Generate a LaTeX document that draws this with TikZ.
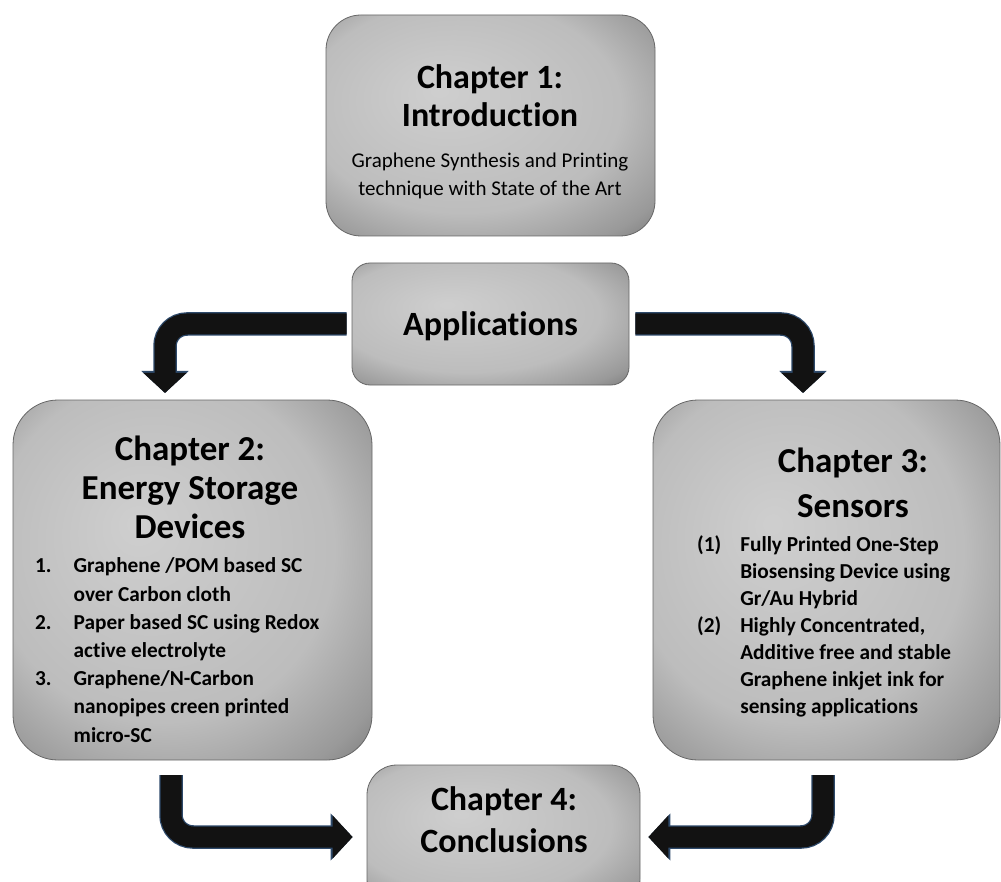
\documentclass[tikz,border=0pt]{standalone}
\usepackage{fontspec}
\setmainfont{Carlito}[Ligatures = NoCommon]
\usetikzlibrary{arrows.meta}

\definecolor{arrowedge}{HTML}{2E4A6B}
\pgfdeclareradialshading{boxglow}{\pgfpoint{-8bp}{8bp}}{color(0bp)=(black!19); color(24bp)=(black!26); color(34bp)=(black!40); color(43bp)=(black!62); color(50bp)=(black!86)}

\begin{document}
\begin{tikzpicture}[x = 1pt, y = -1pt,
        chapbox/.style = {draw = black!60, line width = 0.8pt, shade, shading = boxglow, rounded corners = #1, inner sep = 0pt},
        chaptitle/.style = {font = \bfseries\fontsize{34}{38}\selectfont, align = center, inner sep = 0pt},
        chaplist/.style = {font = \bfseries\fontsize{21.3}{#1}\selectfont, anchor = north west, inner sep = 0pt},
        bigarrow/.style = {line width = 21pt, draw = black!93, rounded corners = 22pt,
                           -{Triangle[length = 20pt, width = 42pt]},
                           preaction = {draw = arrowedge, line width = 23.5pt, -{Triangle[length = 22pt, width = 46pt]}}}]
        \path[clip] (0, 0) rectangle (1001, 882);
        \useasboundingbox (0, 0) rectangle (1001, 882);

        % boxes
        \node[chapbox = 35pt, minimum width = 329pt, minimum height = 221pt] (intro) at (490.5, 125.5) {};
        \node[chapbox = 18pt, minimum width = 277pt, minimum height = 122pt] (apps) at (490.5, 324) {};
        \node[chapbox = 45pt, minimum width = 359pt, minimum height = 360pt] (ch2) at (192.5, 580) {};
        \node[chapbox = 45pt, minimum width = 347pt, minimum height = 360pt] (ch3) at (826.5, 580) {};
        \node[chapbox = 30pt, minimum width = 273pt, minimum height = 144pt] (ch4) at (503.5, 837) {};

        % texts
        \node[chaptitle] (introtitle) at (490, 96) {Chapter 1:\\Introduction};
        \node[font = \fontsize{21}{28}\selectfont, align = center, inner sep = 0pt] (introsub) at (490, 176)
            {Graphene Synthesis and Printing\\technique with State of the Art};
        \node[chaptitle] (appstitle) at (490.5, 326) {Applications};
        \node[chaptitle, font = \bfseries\fontsize{35}{39}\selectfont] (ch2title) at (190, 487) {Chapter 2:\\Energy Storage\\Devices};
        \node[chaplist = 28.2] (ch2list) at (35, 553) {%
            \begin{tabular}{@{}l@{\hspace{22pt}}l@{}}
                1. & Graphene /POM based SC\\
                   & over Carbon cloth\\
                2. & Paper based SC using Redox\\
                   & active electrolyte\\
                3. & Graphene/N-Carbon\\
                   & nanopipes creen printed\\
                   & micro-SC
            \end{tabular}};
        \node[chaptitle, font = \bfseries\fontsize{35}{45}\selectfont] (ch3title) at (853, 483) {Chapter 3:\\Sensors};
        \node[chaplist = 27] (ch3list) at (697, 532) {%
            \begin{tabular}{@{}l@{\hspace{19pt}}l@{}}
                (1) & Fully Printed One-Step\\
                    & Biosensing Device using\\
                    & Gr/Au Hybrid\\
                (2) & Highly Concentrated,\\
                    & Additive free and stable\\
                    & Graphene inkjet ink for\\
                    & sensing applications
            \end{tabular}};
        \node[chaptitle, font = \bfseries\fontsize{34}{42}\selectfont] (ch4title) at (504, 820) {Chapter 4:\\Conclusions};

        % arrows
        \coordinate (ch2top) at (165, 393);
        \coordinate (ch3top) at (803, 393);
        \coordinate (ch2foot) at (171, 775);
        \coordinate (ch3foot) at (823, 775);
        \draw[bigarrow, shorten <= 5pt] (apps.west) -| (ch2top);
        \draw[bigarrow, shorten <= 6pt] (apps.east) -| (ch3top);
        \draw[bigarrow, shorten >= 14pt] (ch2foot) |- (ch4.west);
        \draw[bigarrow, shorten >= 8pt] (ch3foot) |- (ch4.east);
    \end{tikzpicture}
\end{document}
